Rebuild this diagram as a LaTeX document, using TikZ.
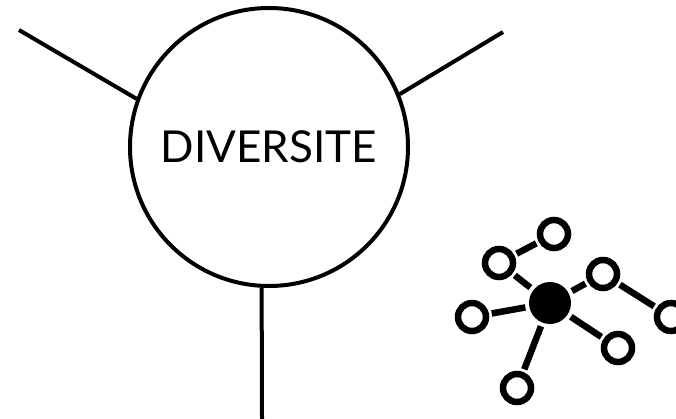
\documentclass[tikz,border=0pt]{standalone}
\usepackage{fontspec}
\setmainfont{Lato}
\begin{document}
\begin{tikzpicture}[x=1pt,y=-1pt,
  bigline/.style={line width=4pt, draw=black},
  ring/.style={circle, draw=black, line width=6.5pt, minimum size=28pt, inner sep=0pt, outer sep=6pt},
  hub/.style={circle, fill=black, minimum size=42pt, inner sep=0pt, outer sep=4pt},
  bond/.style={line width=6.5pt, draw=black}]
\useasboundingbox (0,0) rectangle (676,419);
\node[circle, draw=black, line width=4pt, minimum size=278pt, inner sep=0pt,
  font=\fontsize{44}{48}\selectfont] (c) at (269,147) {DIVERSITE};
\coordinate (tl) at (19,30);
\coordinate (tr) at (503,32);
\coordinate (bt) at (262,419);
\draw[bigline] (tl) -- (c.160);
\draw[bigline] (tr) -- (c.22);
\draw[bigline] (bt) -- (c.267);
% molecule
\node[hub] (h) at (550,303) {};
\node[ring] (r1) at (554,234) {};
\node[ring] (r2) at (499,263) {};
\node[ring] (r3) at (472,317) {};
\node[ring] (r4) at (517,388) {};
\node[ring] (r5) at (618,348) {};
\node[ring] (r6) at (603,274) {};
\node[ring] (r7) at (671,317) {};
\draw[bond] (r2) -- (r1);
\draw[bond] (h) -- (r2);
\draw[bond] (h) -- (r3);
\draw[bond] (h) -- (r4);
\draw[bond] (h) -- (r5);
\draw[bond] (h) -- (r6);
\draw[bond] (r6) -- (r7);
\end{tikzpicture}
\end{document}
